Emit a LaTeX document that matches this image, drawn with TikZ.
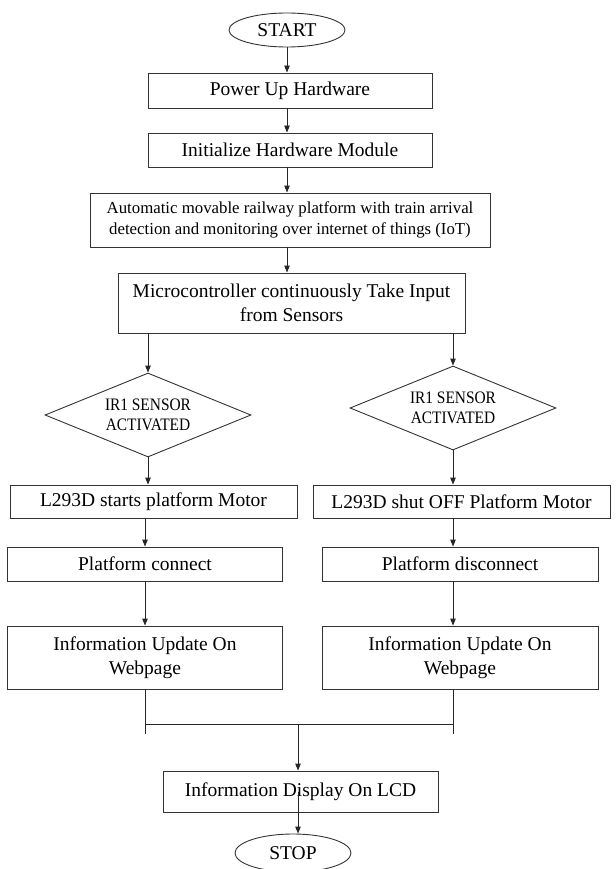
\documentclass[tikz,border=0pt]{standalone}
\usepackage{fontspec}
\setmainfont{Liberation Serif}
\newfontfamily\narrowserif[FakeStretch=0.88]{Liberation Serif}
\usetikzlibrary{shapes.geometric,arrows.meta}
\begin{document}
\begin{tikzpicture}[x=1pt,y=-1pt,line cap=butt,line join=miter,>={Triangle[length=7pt,width=5.5pt]},
	every node/.style={font=\fontsize{19.5}{24}\selectfont},
	box/.style={draw=black!80,line width=0.9pt,align=center,inner sep=0pt},
	term/.style={draw=black!80,line width=0.9pt,ellipse,inner sep=0pt},
	dec/.style={draw=black!80,line width=0.9pt,diamond,aspect=2.45,inner sep=0pt,align=center,
		minimum width=206pt,minimum height=84pt,font=\narrowserif\fontsize{17.5}{20}\selectfont},
	flow/.style={->,draw=black!85,line width=0.9pt},
	link/.style={draw=black!85,line width=0.9pt}]
	\useasboundingbox (0,0) rectangle (615,869);
	
	\node[term,minimum width=116pt,minimum height=34pt] (start) at (287,30) {START};
	\node[box,minimum width=284pt,minimum height=35pt] (power) at (290,90.5) {Power Up Hardware};
	\node[box,minimum width=284pt,minimum height=34pt] (init) at (290,150) {Initialize Hardware Module};
	\node[box,minimum width=400pt,minimum height=54pt,font=\fontsize{16.8}{21}\selectfont] (auto) at (290,220)
	{Automatic movable railway platform with train arrival\\detection and monitoring over internet of things (IoT)};
	\node[box,minimum width=347pt,minimum height=60pt] (micro) at (291.5,303)
	{Microcontroller continuously Take Input\\from Sensors};
	
	\node[dec] (irl) at (148,415) {IR1 SENSOR\\ACTIVATED};
	\node[dec] (irr) at (453,408) {IR1 SENSOR\\ACTIVATED};
	
	\node[box,minimum width=287pt,minimum height=33pt] (motl) at (153.5,501.5) {L293D starts platform Motor};
	\node[box,minimum width=297pt,minimum height=33pt] (motr) at (461.5,501.5) {L293D shut OFF Platform Motor};
	\node[box,minimum width=275pt,minimum height=34pt] (conl) at (145,564) {Platform connect};
	\node[box,minimum width=276pt,minimum height=34pt] (conr) at (460,564) {Platform disconnect};
	\node[box,minimum width=275pt,minimum height=63pt] (webl) at (145,657.5) {Information Update On\\Webpage};
	\node[box,minimum width=276pt,minimum height=63pt] (webr) at (460,657.5) {Information Update On\\Webpage};
	
	\node[box,minimum width=275pt,minimum height=41pt] (lcd) at (300.5,791.5) {Information Display On LCD};
	\node[term,minimum width=116pt,minimum height=38pt] (stop) at (293,853) {STOP};
	
	% main column
	\draw[flow] (start.south) -- (start.south |- power.north);
	\draw[flow] (start.south |- power.south) -- (start.south |- init.north);
	\draw[flow] (start.south |- init.south) -- (start.south |- auto.north);
	\draw[flow] (start.south |- auto.south) -- (start.south |- micro.north);
	
	% two branches
	\draw[flow] (micro.south -| irl) -- (irl.north);
	\draw[flow] (micro.south -| irr) -- (irr.north);
	\draw[flow] (irl.south) -- (motl.north -| irl);
	\draw[flow] (irr.south) -- (motr.north -| irr);
	\draw[flow] (motl.south -| conl) -- (conl.north);
	\draw[flow] (conl.south) -- (webl.north);
	\draw[flow] (motr.south -| irr) -- (conr.north -| irr);
	\draw[flow] (conr.south -| irr) -- (webr.north -| irr);
	
	% merge
	\coordinate (jl) at (145,724);
	\coordinate (jr) at (453,724);
	\coordinate (jm) at (298,724);
	\coordinate (tl) at (145,734);
	\coordinate (tr) at (453,734);
	\draw[link] (webl.south) -- (tl);
	\draw[link] (webr.south -| jr) -- (tr);
	\draw[link] (jl) -- (jr);
	\draw[flow] (jm) -- (lcd.north -| jm);
	\draw[flow] (lcd.center -| jm) -- (stop.north -| jm);
\end{tikzpicture}
\end{document}
